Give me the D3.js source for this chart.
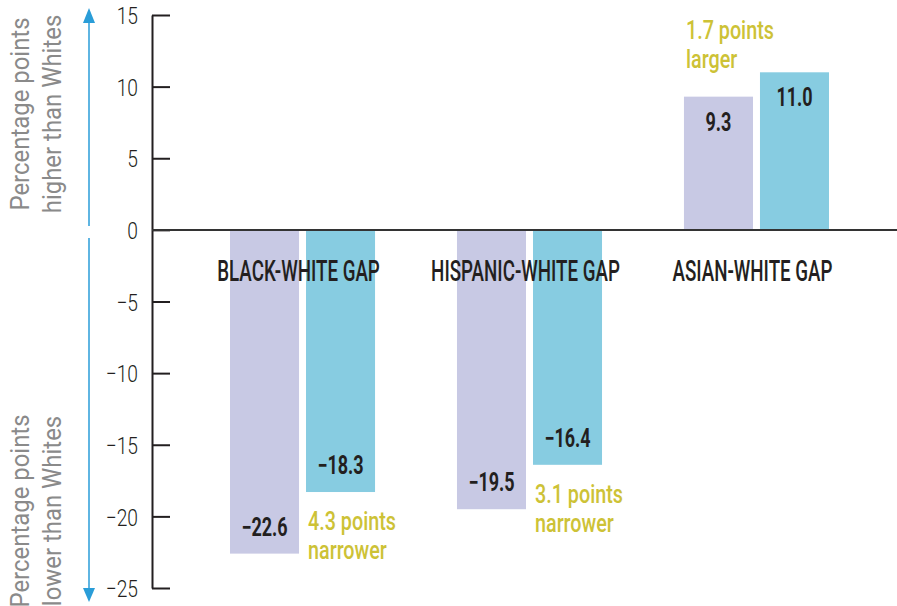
<!DOCTYPE html>
<html>
<head>
<meta charset="utf-8">
<script src="https://cdn.jsdelivr.net/npm/d3@7"></script>
<style>
    body { margin: 0; background: #fff; }
</style>
</head>
<body>
<div id="chart"></div>
<script>
const categories = ["BLACK-WHITE GAP", "HISPANIC-WHITE GAP", "ASIAN-WHITE GAP"];
const series = ["earlier", "later"];
const earlierValues = [-22.6, -19.5, 9.3];
const laterValues = [-18.3, -16.4, 11.0];
const changeNotes = [["4.3 points", "narrower"], ["3.1 points", "narrower"], ["1.7 points", "larger"]];
const yTicks = [-25, -20, -15, -10, -5, 0, 5, 10, 15];
const yTitleUp = ["Percentage points", "higher than Whites"];
const yTitleDown = ["Percentage points", "lower than Whites"];

const width = 897;
const height = 606;
const font = "Roboto, 'Liberation Sans', sans-serif";
const ink = "#231f20";
const gold = "#cdc236";
const arrowBlue = "#2a9dd8";
const colors = { earlier: "#c8c9e4", later: "#87cce1" };

const svg = d3.select("#chart")
    .append("svg")
    .attr("width", width)
    .attr("height", height)
    .attr("viewBox", `0 0 ${width} ${height}`);

// condensed look: squeeze text horizontally
const squeeze = (sel, x, y, sx) => sel.attr("transform", `translate(${x},${y}) scale(${sx},1)`);

const yScale = d3.scaleLinear()
    .domain([-25, 15])
    .range([588, 15]);

const xScale = d3.scaleBand()
    .domain(categories)
    .range([230, 829])
    .paddingInner(0.361)
    .paddingOuter(0);

const xSub = d3.scaleBand()
    .domain(series)
    .range([0, xScale.bandwidth()])
    .paddingInner(0.092);

const axisX = 152;

// y axis
const yAxis = d3.axisLeft(yScale)
    .tickValues(yTicks)
    .tickSizeInner(-18)
    .tickSizeOuter(0)
    .tickPadding(14)
    .tickFormat(d3.format("d"));

const yAxisG = svg.append("g")
    .attr("transform", `translate(${axisX},0)`)
    .call(yAxis);

yAxisG.select(".domain")
    .attr("stroke", ink)
    .attr("stroke-width", 2);
yAxisG.selectAll(".tick line")
    .attr("stroke", ink)
    .attr("stroke-width", 2);
yAxisG.selectAll(".tick text")
    .attr("x", null)
    .attr("dy", "0.36em")
    .attr("transform", "translate(-14,0) scale(0.8,1)")
    .style("font-family", font)
    .style("font-size", "24px")
    .style("font-weight", 300)
    .style("fill", ink);

// bars
const rows = categories.map((c, i) => ({
    category: c,
    values: [
        { key: "earlier", value: earlierValues[i] },
        { key: "later", value: laterValues[i] }
    ],
    note: changeNotes[i]
}));

const groups = svg.selectAll(".group").data(rows)
    .enter().append("g")
    .attr("class", "group")
    .attr("transform", d => `translate(${xScale(d.category)},0)`);

groups.selectAll("rect").data(d => d.values)
    .enter().append("rect")
    .attr("x", d => xSub(d.key))
    .attr("y", d => yScale(Math.max(0, d.value)))
    .attr("width", xSub.bandwidth())
    .attr("height", d => Math.abs(yScale(d.value) - yScale(0)))
    .attr("fill", d => colors[d.key]);

// zero line
svg.append("line")
    .attr("x1", axisX)
    .attr("x2", width)
    .attr("y1", yScale(0))
    .attr("y2", yScale(0))
    .attr("stroke", "#333")
    .attr("stroke-width", 2);

// value labels
groups.selectAll(".value").data(d => d.values)
    .enter().append("text")
    .attr("class", "value")
    .each(function (d) {
        const x = xSub(d.key) + xSub.bandwidth() / 2;
        const y = d.value >= 0 ? yScale(d.value) + 34 : yScale(d.value) - 18;
        squeeze(d3.select(this), x, y, 0.72);
    })
    .attr("text-anchor", "middle")
    .style("font-family", font)
    .style("font-size", "25px")
    .style("font-weight", 700)
    .style("fill", ink)
    .text(d => d3.format(".1f")(d.value));

// category labels
groups.append("text")
    .each(function () {
        squeeze(d3.select(this), xScale.bandwidth() / 2 - 4, 281, 0.625);
    })
    .attr("text-anchor", "middle")
    .style("font-family", font)
    .style("font-size", "30px")
    .style("font-weight", 500)
    .style("fill", ink)
    .text(d => d.category);

// change notes
groups.each(function (d) {
    const g = d3.select(this);
    const earlier = d.values[0].value;
    const later = d.values[1].value;
    let x, y0;
    if (later < 0) {
        x = xSub("later") + 2;
        y0 = yScale(later) + 38;
    } else {
        x = xSub("earlier") + 2;
        y0 = yScale(earlier) - 58;
    }
    d.note.forEach((line, i) => {
        g.append("text")
            .each(function () { squeeze(d3.select(this), x, y0 + i * 29, 0.76); })
            .style("font-family", font)
            .style("font-size", "26px")
            .style("font-weight", 500)
            .style("fill", gold)
            .text(line);
    });
});

// direction arrows
const arrowX = 89;
const up = svg.append("g");
up.append("line")
    .attr("x1", arrowX).attr("x2", arrowX)
    .attr("y1", yScale(15) + 6).attr("y2", yScale(0) - 4)
    .attr("stroke", arrowBlue).attr("stroke-width", 1.5);
up.append("path")
    .attr("d", `M${arrowX},${yScale(15) - 7}L${arrowX + 6},${yScale(15) + 8}L${arrowX - 6},${yScale(15) + 8}Z`)
    .attr("fill", arrowBlue);

const down = svg.append("g");
down.append("line")
    .attr("x1", arrowX).attr("x2", arrowX)
    .attr("y1", yScale(0) + 8).attr("y2", yScale(-25) + 2)
    .attr("stroke", arrowBlue).attr("stroke-width", 1.5);
down.append("path")
    .attr("d", `M${arrowX},${yScale(-25) + 14}L${arrowX + 6},${yScale(-25)}L${arrowX - 6},${yScale(-25)}Z`)
    .attr("fill", arrowBlue);

// y titles
const drawTitle = (lines, cy) => {
    lines.forEach((line, i) => {
        svg.append("text")
            .attr("transform", `translate(${29 + i * 32},${cy}) rotate(-90) scale(0.92,1)`)
            .attr("text-anchor", "middle")
            .style("font-family", font)
            .style("font-size", "26px")
            .style("font-weight", 400)
            .style("fill", "#8a8a8a")
            .text(line);
    });
};
drawTitle(yTitleUp, 114);
drawTitle(yTitleDown, 511);
</script>
</body>
</html>
